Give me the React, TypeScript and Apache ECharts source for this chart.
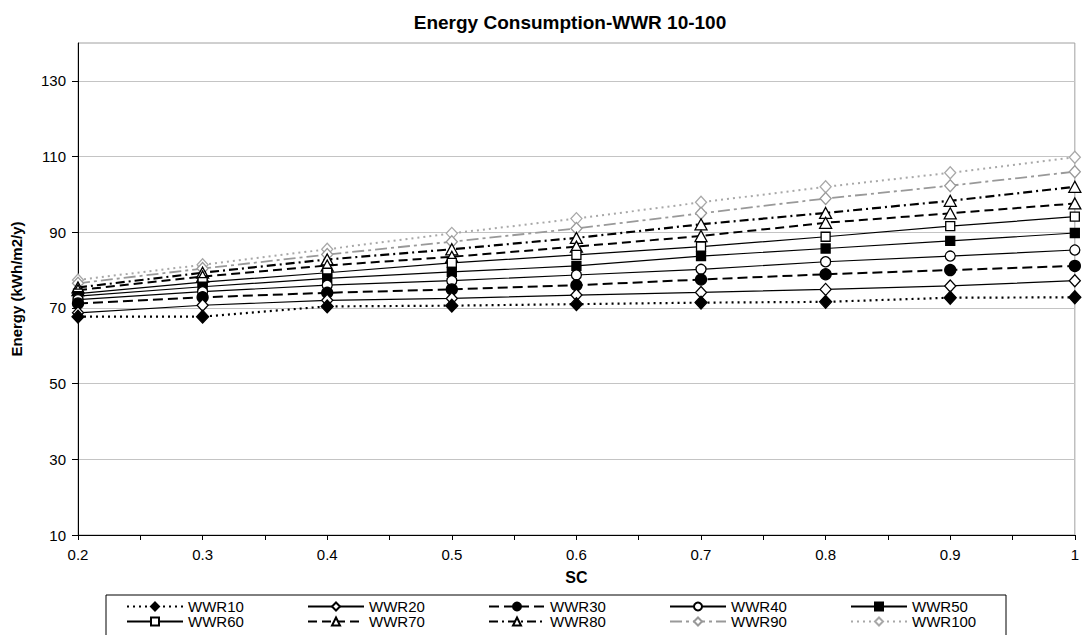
import React, { useEffect, useRef } from "react";
import * as echarts from "echarts";

const scValues = [0.2, 0.3, 0.4, 0.5, 0.6, 0.7, 0.8, 0.9, 1.0];
const yTickValues = [10, 30, 50, 70, 90, 110, 130];

const wwr10 = [67.7, 67.7, 70.4, 70.6, 71.0, 71.4, 71.6, 72.7, 72.8];
const wwr20 = [68.7, 70.7, 72.0, 72.5, 73.4, 74.1, 74.9, 75.8, 77.2];
const wwr30 = [71.2, 72.8, 74.0, 74.9, 76.0, 77.5, 78.9, 80.0, 81.1];
const wwr40 = [72.2, 74.3, 76.0, 77.2, 78.7, 80.2, 82.2, 83.7, 85.3];
const wwr50 = [73.1, 75.6, 77.8, 79.5, 81.1, 83.7, 85.7, 87.7, 89.8];
const wwr60 = [73.8, 76.8, 79.3, 81.9, 84.0, 86.2, 88.8, 91.6, 94.1];
const wwr70 = [74.7, 78.3, 81.2, 83.5, 86.2, 89.0, 92.5, 95.0, 97.6];
const wwr80 = [75.4, 79.3, 82.8, 85.5, 88.5, 92.1, 95.1, 98.3, 102.0];
const wwr90 = [76.5, 80.4, 84.1, 87.5, 91.0, 95.0, 98.9, 102.3, 106.0];
const wwr100 = [77.4, 81.4, 85.5, 89.7, 93.6, 97.9, 102.0, 105.7, 109.8];

const seriesNames = ["WWR10", "WWR20", "WWR30", "WWR40", "WWR50", "WWR60", "WWR70", "WWR80", "WWR90", "WWR100"];
const seriesValues = [wwr10, wwr20, wwr30, wwr40, wwr50, wwr60, wwr70, wwr80, wwr90, wwr100];

const FONT = "'Liberation Sans', Arial, sans-serif";

type Sty = {
  symbol: string;
  size: number | number[];
  fill: string;
  stroke: string;
  lineColor: string;
  lineType: any;
  lineWidth: number;
};

const styles: Sty[] = [
  { symbol: "diamond", size: [12, 13], fill: "#000", stroke: "#000", lineColor: "#000", lineType: [2, 4], lineWidth: 2.2 },
  { symbol: "diamond", size: [11, 12], fill: "#fff", stroke: "#000", lineColor: "#000", lineType: "solid", lineWidth: 1.2 },
  { symbol: "circle", size: 11, fill: "#000", stroke: "#000", lineColor: "#000", lineType: [10, 5], lineWidth: 2 },
  { symbol: "circle", size: 10, fill: "#fff", stroke: "#000", lineColor: "#000", lineType: "solid", lineWidth: 1.2 },
  { symbol: "rect", size: 9, fill: "#000", stroke: "#000", lineColor: "#000", lineType: "solid", lineWidth: 1.2 },
  { symbol: "rect", size: 9, fill: "#fff", stroke: "#000", lineColor: "#000", lineType: "solid", lineWidth: 1.2 },
  { symbol: "triangle", size: [12, 11], fill: "#fff", stroke: "#000", lineColor: "#000", lineType: [9, 5], lineWidth: 2 },
  { symbol: "triangle", size: [12, 11], fill: "#fff", stroke: "#000", lineColor: "#000", lineType: [9, 4, 2, 4], lineWidth: 2.2 },
  { symbol: "diamond", size: [11, 12], fill: "#fff", stroke: "#999", lineColor: "#999", lineType: [12, 4, 3, 4], lineWidth: 1.8 },
  { symbol: "diamond", size: [11, 12], fill: "#fff", stroke: "#a8a8a8", lineColor: "#a8a8a8", lineType: [2, 4], lineWidth: 2 },
];

export default function App() {
  const ref = useRef<HTMLDivElement>(null);

  useEffect(() => {
    document.body.style.margin = "0";
    if (!ref.current) return;
    const chart = echarts.init(ref.current, undefined, { renderer: "svg" });

    const series = seriesNames.map((name, i) => {
      const s = styles[i];
      return {
        name,
        type: "line",
        data: scValues.map((x, j) => [x, seriesValues[i][j]]),
        symbol: s.symbol,
        symbolSize: s.size,
        showAllSymbol: true,
        color: s.lineColor,
        itemStyle: { color: s.fill, borderColor: s.stroke, borderWidth: 1.3 },
        lineStyle: { color: s.lineColor, type: s.lineType, width: s.lineWidth },
        z: 10 - i,
      };
    });

    chart.setOption({
      animation: false,
      backgroundColor: "#fff",
      title: {
        text: "Energy Consumption-WWR 10-100",
        left: 565,
        top: 8,
        textAlign: "center",
        textStyle: { fontFamily: FONT, fontSize: 19, fontWeight: "bold", color: "#000" },
      },
      grid: {
        left: 78,
        right: 4,
        top: 43,
        bottom: 100,
        show: true,
        borderColor: "#a0a0a0",
        borderWidth: 1,
        backgroundColor: "transparent",
      },
      xAxis: {
        type: "value",
        min: 0.2,
        max: 1,
        interval: 0.1,
        name: "SC",
        nameLocation: "middle",
        nameGap: 34,
        nameTextStyle: { fontFamily: FONT, fontSize: 16, fontWeight: "bold", color: "#000" },
        axisLine: { show: true, onZero: false, lineStyle: { color: "#000", width: 1 } },
        axisTick: { show: true, inside: false, length: 5, lineStyle: { color: "#000" } },
        minorTick: { show: true, splitNumber: 2, length: 5, lineStyle: { color: "#000" } },
        splitLine: { show: false },
        minorSplitLine: { show: false },
        axisLabel: {
          margin: 12,
          fontFamily: FONT,
          fontSize: 15,
          color: "#000",
          formatter: (v: number) => (Math.abs(v - 1) < 1e-9 ? "1" : v.toFixed(1)),
        },
      },
      yAxis: {
        type: "value",
        min: 10,
        max: 140,
        interval: 10,
        name: "Energy (kWh/m2/y)",
        nameLocation: "middle",
        nameGap: 54,
        nameRotate: 90,
        nameTextStyle: { fontFamily: FONT, fontSize: 15, fontWeight: "bold", color: "#000" },
        axisLine: { show: true, onZero: false, lineStyle: { color: "#000", width: 1 } },
        axisTick: { show: true, inside: false, length: 6, lineStyle: { color: "#000" }, customValues: yTickValues },
        splitLine: { show: true, lineStyle: { color: "#c4c4c4", width: 1 } },
        axisLabel: {
          margin: 12,
          fontFamily: FONT,
          fontSize: 15,
          color: "#000",
          customValues: yTickValues,
        },
      },
      legend: {
        data: seriesNames,
        left: 126,
        top: 599,
        orient: "horizontal",
        width: 960,
        itemWidth: 56,
        itemHeight: 10,
        itemGap: 0,
        padding: 0,
        textStyle: { fontFamily: FONT, fontSize: 15, color: "#000", width: 119, lineHeight: 12 },
      },
      graphic: [
        {
          type: "rect",
          shape: { x: 106, y: 595, width: 900, height: 50 },
          style: { fill: "none", stroke: "#000", lineWidth: 1 },
          silent: true,
          z: 0,
        },
      ],
      series,
    });

    return () => chart.dispose();
  }, []);

  return <div ref={ref} style={{ width: 1082, height: 635 }} />;
}
